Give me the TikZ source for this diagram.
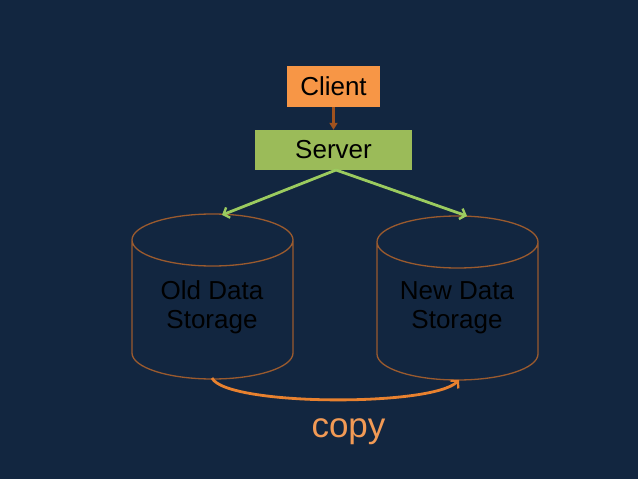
\documentclass[tikz,border=0pt]{standalone}
\usepackage{fontspec}
\setmainfont{Liberation Sans}
\usetikzlibrary{arrows.meta}
\definecolor{bg}{HTML}{122640}
\definecolor{clientfill}{HTML}{F79646}
\definecolor{serverfill}{HTML}{9BBB59}
\definecolor{greenline}{HTML}{9BCB5F}
\definecolor{brownline}{HTML}{9A5A2E}
\definecolor{arrowbrown}{HTML}{A0521E}
\definecolor{copyline}{HTML}{E8812F}
\definecolor{copytext}{HTML}{F29A55}
\begin{document}
\begin{tikzpicture}[x=1pt,y=-1pt,
  boxnode/.style={inner sep=0pt,font=\fontsize{26}{29}\selectfont,text=black},
  greenarrow/.style={draw=greenline,line width=2.8pt,-{Straight Barb[length=5pt,width=11pt,line width=2.4pt]}},
  cyl/.style={draw=brownline,line width=1.3pt},
  cyltext/.style={inner sep=0pt,align=center,font=\fontsize{26}{29}\selectfont,text=black}]
\useasboundingbox[fill=bg] (0,0) rectangle (638,479);
% boxes
\node[boxnode,fill=clientfill,minimum width=93pt,minimum height=41pt] (client) at (333.5,86.5) {Client};
\node[boxnode,fill=serverfill,minimum width=157pt,minimum height=40pt] (server) at (333.5,150) {Server};
\draw[arrowbrown,line width=2.2pt,-{Triangle[length=7pt,width=8pt]}] (client.south) -- (server.north);
% cylinders
\draw[cyl] (132,240) arc[start angle=180,end angle=-180,x radius=80.5pt,y radius=26pt]
  (132,240) -- (132,353) arc[start angle=180,end angle=360,x radius=80.5pt,y radius=26pt] -- (293,240);
\draw[cyl] (377,242) arc[start angle=180,end angle=-180,x radius=80.5pt,y radius=26pt]
  (377,242) -- (377,354) arc[start angle=180,end angle=360,x radius=80.5pt,y radius=26pt] -- (538,242);
\coordinate (oldtop) at (222,215);
\coordinate (newtop) at (467,216);
\coordinate (oldbot) at (212,378);
\coordinate (newbot) at (459,380);
\node[cyltext] (old) at (212,307) {Old Data\\Storage};
\node[cyltext] (new) at (457,308) {New Data\\Storage};
% green arrows
\coordinate (sbot) at (336,170);
\draw[greenarrow] (sbot) -- (oldtop);
\draw[greenarrow] (sbot) -- (newtop);
% copy arrow
\draw[copyline,line width=2.8pt,-{Straight Barb[length=5pt,width=11pt,line width=2.2pt]}]
  (oldbot) .. controls (226,406) and (432,407) .. (newbot);
\node[inner sep=0pt,anchor=base,text=copytext,font=\fontsize{35}{40}\selectfont] (copy) at (348.5,437) {copy};
\end{tikzpicture}
\end{document}
